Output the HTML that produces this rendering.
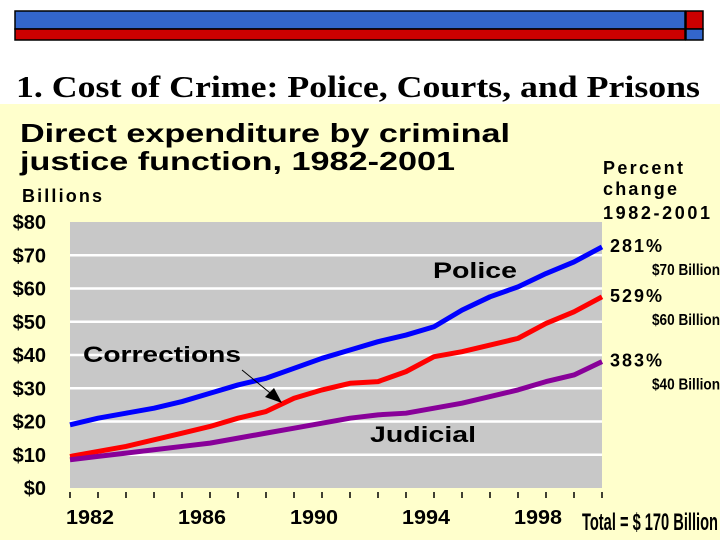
<!DOCTYPE html>
<html><head><meta charset="utf-8"><style>
body{margin:0;width:720px;height:540px;overflow:hidden;background:#fff;font-family:"Liberation Sans",sans-serif}
</style></head><body>
<svg width="720" height="540" xmlns="http://www.w3.org/2000/svg">
<rect x="0" y="104" width="720" height="436" fill="#FFFFCC"/>
<g>
<rect x="15" y="11" width="670" height="18" fill="#3366CC" stroke="#000" stroke-width="1.5"/>
<rect x="15" y="29" width="670" height="11" fill="#CC0000" stroke="#000" stroke-width="1.5"/>
<rect x="686" y="11" width="17" height="18" fill="#CC0000" stroke="#000" stroke-width="1.5"/>
<rect x="686" y="29" width="17" height="11" fill="#3366CC" stroke="#000" stroke-width="1.5"/>
</g>
<text x="16" y="97" font-family="Liberation Serif,serif" font-size="31" font-weight="bold" fill="#000" textLength="684" lengthAdjust="spacingAndGlyphs">1. Cost of Crime: Police, Courts, and Prisons</text>
<text x="20" y="142" font-size="26" font-weight="bold" fill="#000" textLength="490" lengthAdjust="spacingAndGlyphs">Direct expenditure by criminal</text>
<text x="20" y="170" font-size="26" font-weight="bold" fill="#000" textLength="435" lengthAdjust="spacingAndGlyphs">justice function, 1982-2001</text>
<text x="22" y="202" font-size="18" font-weight="bold" textLength="80">Billions</text>
<g font-size="18" font-weight="bold">
<text x="603" y="174" textLength="80">Percent</text><text x="603" y="195" textLength="74">change</text><text x="603" y="219" textLength="107">1982-2001</text></g>
<g id="plot"></g>
<text x="582" y="530" font-family="Liberation Sans Narrow,Liberation Sans,sans-serif" font-size="24" font-weight="bold" textLength="136" lengthAdjust="spacingAndGlyphs">Total = $ 170 Billion</text>
</svg>
<script>
const years=[1982,1983,1984,1985,1986,1987,1988,1989,1990,1991,1992,1993,1994,1995,1996,1997,1998,1999,2000,2001];
const police=[19,21,22.5,24,26,28.5,31,33,36,39,41.5,44,46,48.5,53.5,57.5,60.5,64.5,68,72.5];
const corrections=[9.5,11,12.5,14.5,16.5,18.5,21,23,27,29.5,31.5,32,35,39.5,41,43,45,49.5,53,57.5];
const judicial=[8.5,9.5,10.5,11.5,12.5,13.5,15,16.5,18,19.5,21,22,22.5,24,25.5,27.5,29.5,32,34,38];
const yTicks=[0,10,20,30,40,50,60,70,80];
const xLabels=[1982,1986,1990,1994,1998];
const ends=[["281%","$70 Billion"],["529%","$60 Billion"],["383%","$40 Billion"]];
const NS="http://www.w3.org/2000/svg";
const g=document.getElementById('plot');
const X0=70,X1=602,Y0=488,Y1=222;
const x=v=>X0+(v-1982)/(2001-1982)*(X1-X0);
const y=v=>Y0-v/80*(Y0-Y1);
function mk(t,a,p){const e=document.createElementNS(NS,t);for(const k in a)e.setAttribute(k,a[k]);(p||g).appendChild(e);return e;}
const bg=mk('rect',{x:X0,y:Y1,width:X1-X0,height:Y0-Y1,fill:'#C8C8C8'});


yTicks.forEach(v=>{
 if(v>0&&v<80){const l=mk('line',{x1:X0,x2:X1,y1:y(v),y2:y(v),stroke:'#fff','stroke-width':2.5});
 
 }
 const t=mk('text',{x:46,y:y(v)+7,'text-anchor':'end','font-size':20,'font-weight':'bold',fill:'#000'});
 t.textContent='$'+v;
 
 
});
years.forEach(v=>{const l=mk('line',{x1:x(v),x2:x(v),y1:492,y2:498,stroke:'#000','stroke-width':1.5});
 
 });
xLabels.forEach(v=>{const t=mk('text',{x:x(v)+20,y:524,'text-anchor':'middle','font-size':20,'font-weight':'bold',textLength:48,lengthAdjust:'spacingAndGlyphs'});
 t.textContent=v;
 
 });
const series=[[police,'#0000FF','police-line'],[corrections,'#FF0000','corrections-line'],[judicial,'#880099','judicial-line']];
series.forEach((s,i)=>{
 const p=mk('polyline',{points:s[0].map((v,j)=>x(years[j])+','+y(v)).join(' '),fill:'none',stroke:s[1],'stroke-width':5,'stroke-linejoin':'round'});
 
 
 const yy=y(s[0][s[0].length-1]);
 const a=mk('text',{x:610,y:yy+5,'font-size':18,'font-weight':'bold',textLength:52});a.textContent=ends[i][0];
 
 
 const b=mk('text',{x:652,y:yy+28,'font-size':16,'font-weight':'bold','font-family':'Liberation Sans Narrow,Liberation Sans,sans-serif',textLength:68,lengthAdjust:'spacingAndGlyphs'});b.textContent=ends[i][1];
 
 
});
const lab=[['Police',433,278,'police-label',84],['Corrections',83,362,'corrections-label',158],['Judicial',370,442,'judicial-label',106]];
lab.forEach(l=>{const t=mk('text',{x:l[1],y:l[2],'font-size':22,fill:'#000','font-weight':'bold',textLength:l[4],lengthAdjust:'spacingAndGlyphs'});t.textContent=l[0];
 
 });
const ar=mk('line',{x1:242,y1:370,x2:275,y2:397,stroke:'#000','stroke-width':1});


const ah=mk('polygon',{points:'282,403 265,397 274,388',fill:'#000'});


</script>
</body></html>
